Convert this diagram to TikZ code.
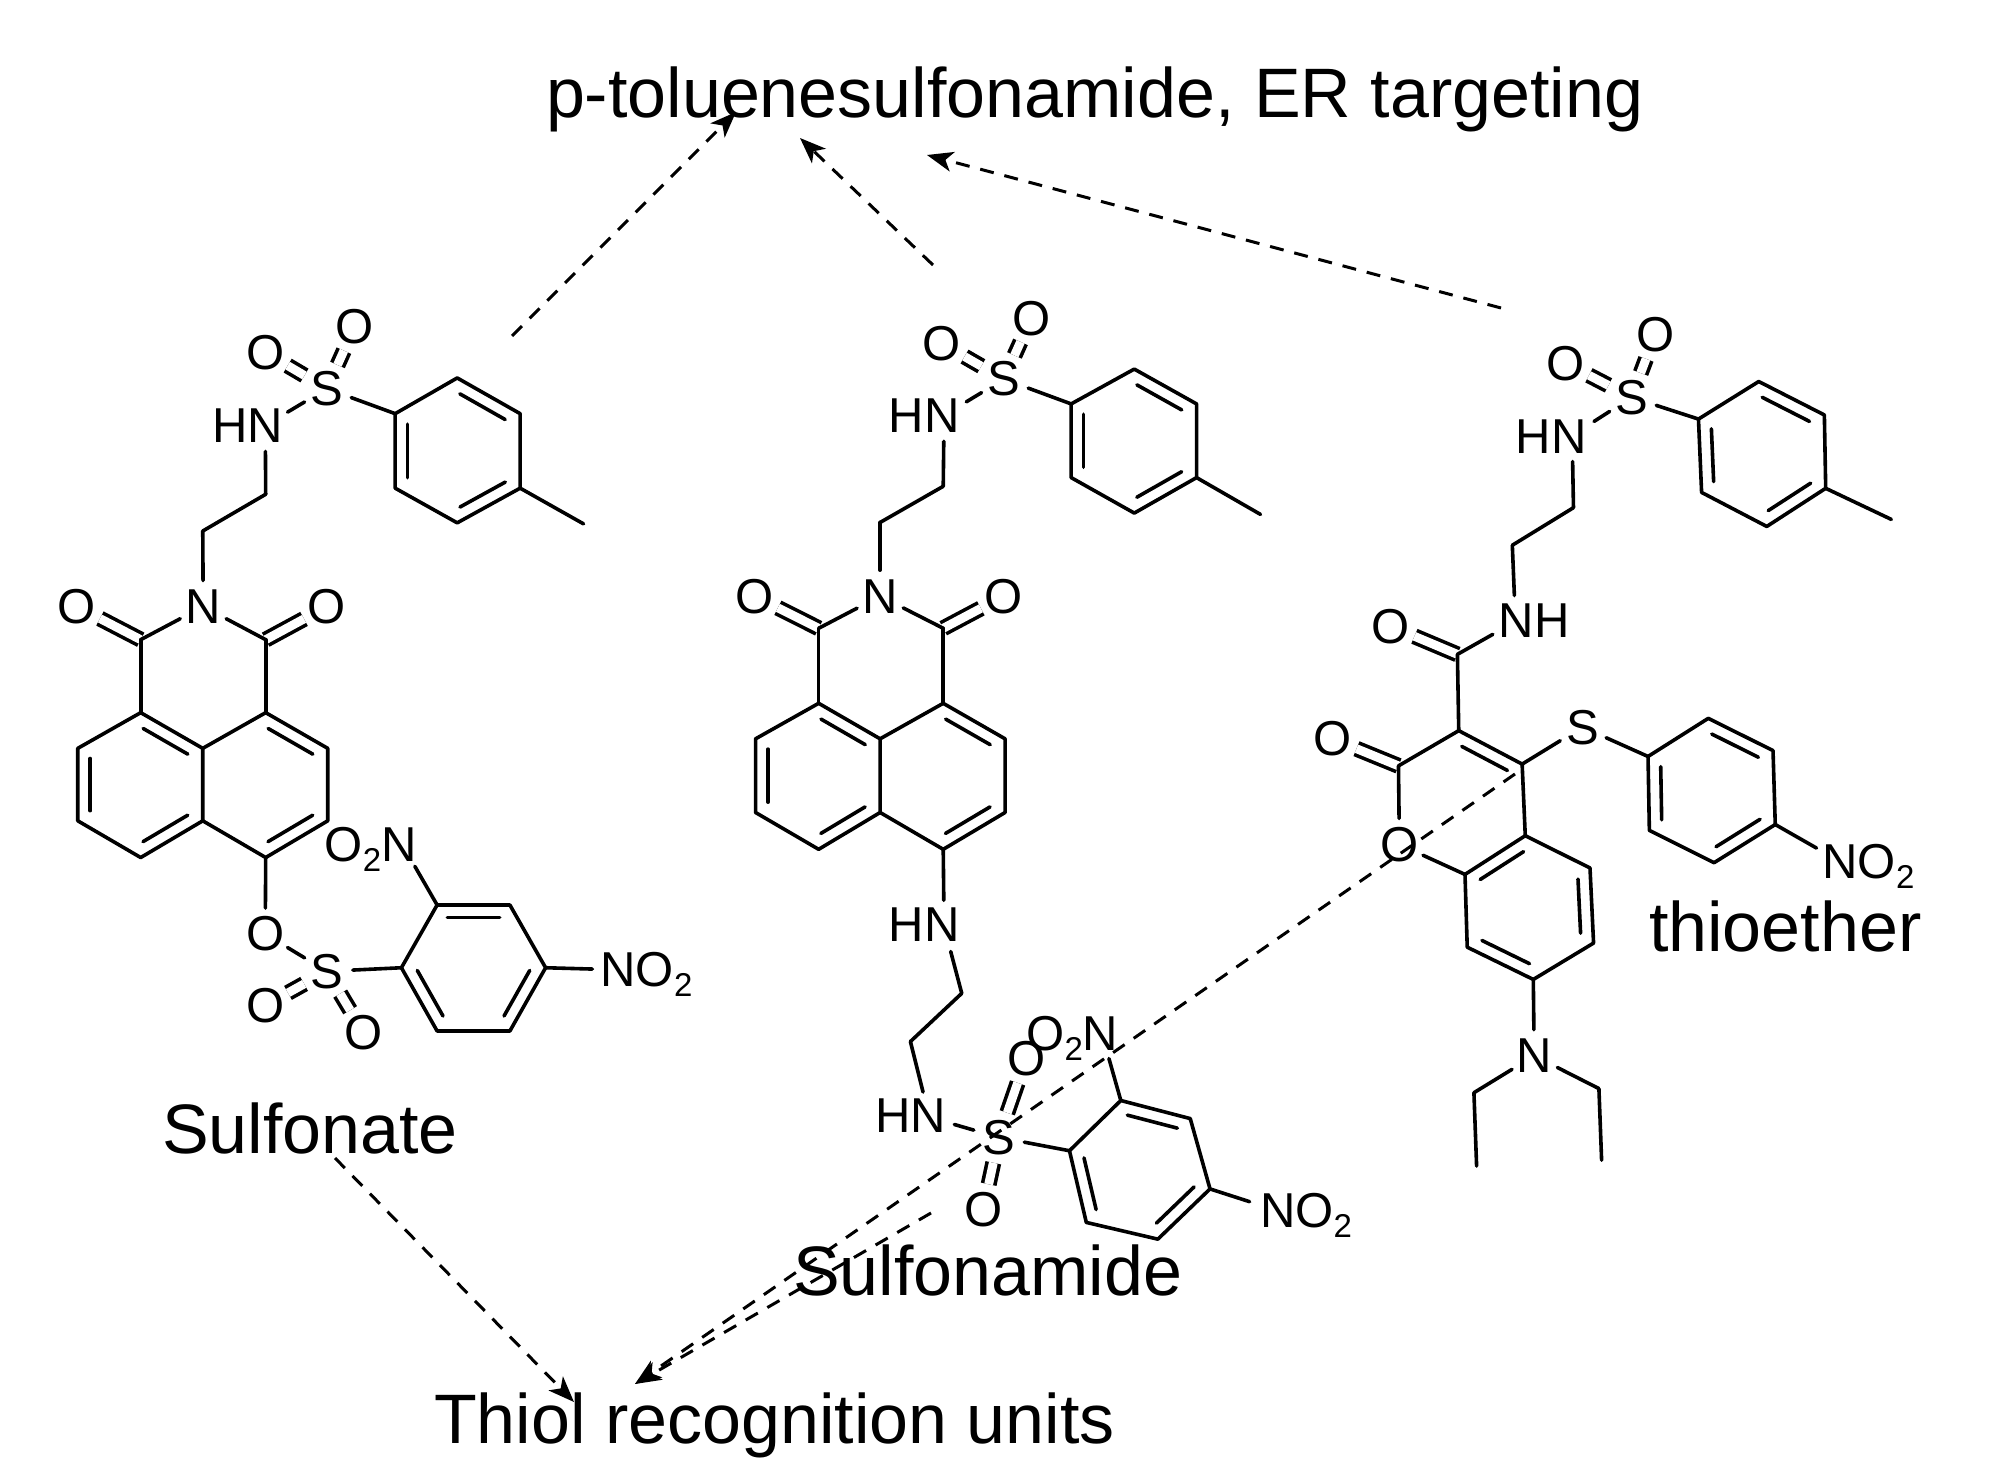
\documentclass[tikz,border=0pt]{standalone}
\usepackage{fontspec}
\setmainfont{Liberation Sans}
\usetikzlibrary{calc,arrows.meta}
\newcommand{\atomfont}{\fontsize{24.5}{28}\selectfont}
\newcommand{\subtwo}{\raisebox{-5pt}{\fontsize{16.5}{17}\selectfont 2}}
\newcommand{\inb}[2]{\draw[bond] ($(#1)!.14!(#2)!6.25pt!-90:(#2)$) -- ($(#2)!.14!(#1)!6.25pt!90:(#1)$);}
\tikzset{
  bond/.style={line width=1.8pt,line cap=round,line join=round},
  dbl/.style={line width=1.8pt,double=white,double distance=4.4pt,line cap=butt},
  atom/.style={circle,inner sep=0pt,outer sep=0pt,minimum size=26pt,font=\atomfont},
  ghost/.style={circle,inner sep=0pt,outer sep=0pt,minimum size=26pt},
  lbl/.style={inner sep=0pt,outer sep=0pt,font=\atomfont},
  captxt/.style={inner sep=0pt,outer sep=0pt,font=\fontsize{35}{40}\selectfont,anchor=base west},
  darr/.style={line width=1.5pt,dash pattern=on 7pt off 5.5pt,-{Stealth[length=13pt,width=10pt,inset=3.5pt]}}
}
\begin{document}
\begin{tikzpicture}[x=0.5pt,y=-0.5pt]
\useasboundingbox (0,0) rectangle (1998,1466);
\fill[white] (0,0) rectangle (1998,1466);

%% ---------- molecule A: sulfonate
\begin{scope}[shift={(30,280)},x=0.2232pt,y=-0.2551pt]
\node[atom] (AS1) at (665,213) {S};
\node[atom] (AOa) at (527,142) {O};
\node[atom] (AOb) at (727,92) {O};
\node[ghost] (AN1) at (527,285) {};
\node[lbl,anchor=base west] (AHN) at (409,318) {HN};
\node[atom] (AN2) at (388,640) {N};
\node[atom] (AOc) at (105,640) {O};
\node[atom] (AOd) at (665,640) {O};
\node[atom] (AOe) at (527,1282) {O};
\node[atom] (AS2) at (665,1355) {S};
\node[atom] (AOf) at (527,1422) {O};
\node[atom] (AOg) at (747,1475) {O};
\node[ghost] (AN3) at (833,1105) {};
\node[lbl,anchor=base east] (AO2N) at (866,1140) {O\subtwo N};
\node[ghost] (AN4) at (1318,1352) {};
\node[lbl,anchor=base west] (ANO2) at (1278,1385) {NO\subtwo};
\coordinate (Aa1) at (818,262); \coordinate (Aa2) at (957,192); \coordinate (Aa3) at (1098,262);
\coordinate (Aa4) at (1098,408); \coordinate (Aa5) at (957,476); \coordinate (Aa6) at (818,408);
\coordinate (Ame) at (1240,478);
\coordinate (Ae1) at (528,420); \coordinate (Ae2) at (387,492);
\coordinate (Ad1) at (248,705); \coordinate (Ad2) at (528,705);
\coordinate (Ab1) at (248,848); \coordinate (Ab2) at (107,918); \coordinate (Ab3) at (107,1060);
\coordinate (Ab4) at (248,1132); \coordinate (Ab5) at (387,1060); \coordinate (Ab6) at (387,918);
\coordinate (Ab7) at (528,848); \coordinate (Ab8) at (667,918); \coordinate (Ab9) at (667,1060);
\coordinate (Ab10) at (528,1132);
\coordinate (Ac1) at (832,1348); \coordinate (Ac2) at (912,1225); \coordinate (Ac3) at (1075,1225);
\coordinate (Ac4) at (1155,1348); \coordinate (Ac5) at (1075,1472); \coordinate (Ac6) at (912,1472);
\foreach \u/\v in {AS1/AOa,AS1/AOb,Ad1/AOc,Ad2/AOd,AS2/AOf,AS2/AOg}{\draw[dbl] (\u) -- (\v);}
\foreach \u/\v in {AS1/Aa1,AS1/AN1,AN1/Ae1,Ae1/Ae2,Ae2/AN2,AN2/Ad1,AN2/Ad2,Ad1/Ab1,Ad2/Ab7,
  Ab10/AOe,AOe/AS2,AS2/Ac1,AN3/Ac2,Ac4/AN4,Aa4/Ame}{\draw[bond] (\u) -- (\v);}
\draw[bond] (Aa1)--(Aa2)--(Aa3)--(Aa4)--(Aa5)--(Aa6)--cycle;
\draw[bond] (Ab1)--(Ab2)--(Ab3)--(Ab4)--(Ab5)--(Ab6)--cycle;
\draw[bond] (Ab6)--(Ab7)--(Ab8)--(Ab9)--(Ab10)--(Ab5);
\draw[bond] (Ac1)--(Ac2)--(Ac3)--(Ac4)--(Ac5)--(Ac6)--cycle;
\inb{Aa2}{Aa3}\inb{Aa4}{Aa5}\inb{Aa6}{Aa1}
\inb{Ab1}{Ab6}\inb{Ab5}{Ab4}\inb{Ab3}{Ab2}\inb{Ab7}{Ab8}\inb{Ab9}{Ab10}
\inb{Ac2}{Ac3}\inb{Ac4}{Ac5}\inb{Ac6}{Ac1}
\end{scope}

%% ---------- molecule B: sulfonamide
\begin{scope}[shift={(700,280)},x=0.2104pt,y=-0.3349pt]
\node[atom] (BS1) at (722,148) {S};
\node[atom] (BOa) at (575,95) {O};
\node[atom] (BOb) at (787,57) {O};
\node[ghost] (BN1) at (580,202) {};
\node[lbl,anchor=base west] (BHN) at (449,228) {HN};
\node[atom] (BN2) at (428,472) {N};
\node[atom] (BOc) at (130,472) {O};
\node[atom] (BOd) at (722,472) {O};
\node[ghost] (BN3) at (580,965) {};
\node[lbl,anchor=base west] (BHNb) at (449,988) {HN};
\node[ghost] (BN4) at (545,1250) {};
\node[lbl,anchor=base west] (BHNc) at (416,1273) {HN};
\node[atom] (BS2) at (710,1280) {S};
\node[atom] (BOe) at (775,1162) {O};
\node[atom] (BOf) at (673,1388) {O};
\node[ghost] (BN5) at (955,1125) {};
\node[lbl,anchor=base east] (BO2N) at (994,1150) {O\subtwo N};
\node[ghost] (BN6) at (1365,1388) {};
\node[lbl,anchor=base west] (BNO2) at (1331,1415) {NO\subtwo};
\coordinate (Ba1) at (882,185); \coordinate (Ba2) at (1032,133); \coordinate (Ba3) at (1180,185);
\coordinate (Ba4) at (1180,295); \coordinate (Ba5) at (1032,348); \coordinate (Ba6) at (882,295);
\coordinate (Bme) at (1332,350);
\coordinate (Be1) at (578,308); \coordinate (Be2) at (428,362);
\coordinate (Bd1) at (282,520); \coordinate (Bd2) at (578,520);
\coordinate (Bb1) at (282,632); \coordinate (Bb2) at (132,685); \coordinate (Bb3) at (132,795);
\coordinate (Bb4) at (282,850); \coordinate (Bb5) at (428,795); \coordinate (Bb6) at (428,685);
\coordinate (Bb7) at (578,632); \coordinate (Bb8) at (725,685); \coordinate (Bb9) at (725,795);
\coordinate (Bb10) at (578,850);
\coordinate (Bf1) at (622,1065); \coordinate (Bf2) at (500,1137);
\coordinate (Bc1) at (878,1300); \coordinate (Bc2) at (1000,1225); \coordinate (Bc3) at (1165,1252);
\coordinate (Bc4) at (1212,1357); \coordinate (Bc5) at (1088,1432); \coordinate (Bc6) at (918,1407);
\foreach \u/\v in {BS1/BOa,BS1/BOb,Bd1/BOc,Bd2/BOd,BS2/BOe,BS2/BOf}{\draw[dbl] (\u) -- (\v);}
\foreach \u/\v in {BS1/Ba1,BS1/BN1,BN1/Be1,Be1/Be2,Be2/BN2,BN2/Bd1,BN2/Bd2,Bd1/Bb1,Bd2/Bb7,
  Bb10/BN3,BN3/Bf1,Bf1/Bf2,Bf2/BN4,BN4/BS2,BS2/Bc1,BN5/Bc2,Bc4/BN6,Ba4/Bme}{\draw[bond] (\u) -- (\v);}
\draw[bond] (Ba1)--(Ba2)--(Ba3)--(Ba4)--(Ba5)--(Ba6)--cycle;
\draw[bond] (Bb1)--(Bb2)--(Bb3)--(Bb4)--(Bb5)--(Bb6)--cycle;
\draw[bond] (Bb6)--(Bb7)--(Bb8)--(Bb9)--(Bb10)--(Bb5);
\draw[bond] (Bc1)--(Bc2)--(Bc3)--(Bc4)--(Bc5)--(Bc6)--cycle;
\inb{Ba2}{Ba3}\inb{Ba4}{Ba5}\inb{Ba6}{Ba1}
\inb{Bb1}{Bb6}\inb{Bb5}{Bb4}\inb{Bb3}{Bb2}\inb{Bb7}{Bb8}\inb{Bb9}{Bb10}
\inb{Bc2}{Bc3}\inb{Bc4}{Bc5}\inb{Bc6}{Bc1}
\end{scope}

%% ---------- molecule C: thioether
\begin{scope}[shift={(1290,280)},x=0.2232pt,y=-0.2934pt]
\node[atom] (CS1) at (765,200) {S};
\node[atom] (COa) at (618,142) {O};
\node[atom] (COb) at (818,93) {O};
\node[ghost] (CN1) at (632,265) {};
\node[lbl,anchor=base west] (CHN) at (506,295) {HN};
\node[ghost] (CN2) at (505,582) {};
\node[lbl,anchor=base west] (CNH) at (468,610) {NH};
\node[atom] (COc) at (225,590) {O};
\node[atom] (COd) at (95,782) {O};
\node[atom] (COe) at (245,962) {O};
\node[atom] (CS2) at (655,762) {S};
\node[atom] (CN3) at (547,1322) {N};
\node[ghost] (CN4) at (1230,990) {};
\node[lbl,anchor=base west] (CNO2) at (1193,1020) {NO\subtwo};
\coordinate (Ca1) at (915,237); \coordinate (Ca2) at (1050,173); \coordinate (Ca3) at (1197,230);
\coordinate (Ca4) at (1200,355); \coordinate (Ca5) at (1068,420); \coordinate (Ca6) at (922,362);
\coordinate (Cme) at (1347,408);
\coordinate (Ce1) at (635,388); \coordinate (Ce2) at (498,452);
\coordinate (Cd1) at (375,638); \coordinate (Cx1) at (378,768); \coordinate (Cx2) at (520,825);
\coordinate (Cd2) at (243,828);
\coordinate (Cr1) at (527,947); \coordinate (Cr2) at (392,1013); \coordinate (Cr3) at (397,1137);
\coordinate (Cr4) at (545,1192); \coordinate (Cr5) at (680,1130); \coordinate (Cr6) at (672,1002);
\coordinate (Cf1) at (412,1385); \coordinate (Cf2) at (418,1510);
\coordinate (Cf3) at (692,1378); \coordinate (Cf4) at (698,1500);
\coordinate (Cp1) at (802,812); \coordinate (Cp2) at (937,747); \coordinate (Cp3) at (1082,802);
\coordinate (Cp4) at (1087,928); \coordinate (Cp5) at (950,993); \coordinate (Cp6) at (805,938);
\foreach \u/\v in {CS1/COa,CS1/COb,Cd1/COc,Cd2/COd}{\draw[dbl] (\u) -- (\v);}
\foreach \u/\v in {CS1/Ca1,CS1/CN1,CN1/Ce1,Ce1/Ce2,Ce2/CN2,CN2/Cd1,Cd1/Cx1,Cx1/Cx2,Cx1/Cd2,Cd2/COe,COe/Cr2,
  Cx2/CS2,CS2/Cp1,Cx2/Cr1,Cr4/CN3,CN3/Cf1,Cf1/Cf2,CN3/Cf3,Cf3/Cf4,Cp4/CN4,Ca4/Cme}{\draw[bond] (\u) -- (\v);}
\draw[bond] (Ca1)--(Ca2)--(Ca3)--(Ca4)--(Ca5)--(Ca6)--cycle;
\draw[bond] (Cr1)--(Cr2)--(Cr3)--(Cr4)--(Cr5)--(Cr6)--cycle;
\draw[bond] (Cp1)--(Cp2)--(Cp3)--(Cp4)--(Cp5)--(Cp6)--cycle;
\inb{Ca2}{Ca3}\inb{Ca4}{Ca5}\inb{Ca6}{Ca1}
\inb{Cx1}{Cx2}
\inb{Cr6}{Cr5}\inb{Cr4}{Cr3}\inb{Cr2}{Cr1}
\inb{Cp2}{Cp3}\inb{Cp4}{Cp5}\inb{Cp6}{Cp1}
\end{scope}

%% ---------- captions
\node[captxt] (ptol) at (546,118) {p-toluenesulfonamide, ER targeting};
\node[captxt] (sulfonate) at (162,1153) {Sulfonate};
\node[captxt] (sulfonamide) at (793,1295) {Sulfonamide};
\node[captxt] (thioether) at (1649,951) {thioether};
\node[captxt] (thiol) at (434,1443) {Thiol recognition units};

%% ---------- dashed connectors
\coordinate (t1s) at (512,336); \coordinate (t1e) at (736,112);
\coordinate (t2s) at (933,265); \coordinate (t2e) at (800,138);
\coordinate (t3s) at (1501,308); \coordinate (t3e) at (927,155);
\coordinate (r1s) at (335,1158); \coordinate (r1e) at (574,1402);
\coordinate (r2s) at (1515,774); \coordinate (r3s) at (931,1213); \coordinate (r2e) at (635,1384);
\foreach \u/\v in {t1s/t1e,t2s/t2e,t3s/t3e,r1s/r1e,r2s/r2e,r3s/r2e}{\draw[darr] (\u) -- (\v);}
\end{tikzpicture}
\end{document}
